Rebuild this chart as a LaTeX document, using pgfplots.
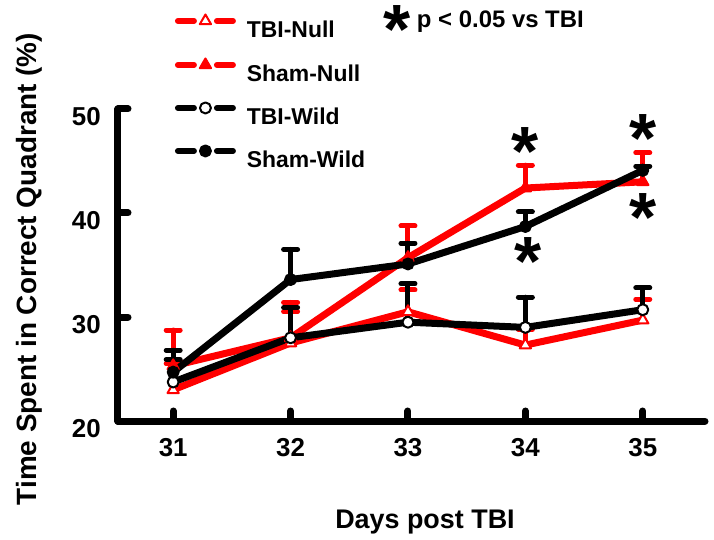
\documentclass[border=0pt]{standalone}
\usepackage{fontspec}
\setmainfont{Liberation Sans}
\usepackage{pgfplots}
\pgfplotsset{compat=1.18}
\definecolor{myred}{RGB}{255,0,0}
\tikzset{bigstar/.style={font=\fontsize{70}{70}\selectfont\bfseries, anchor=base, inner sep=0pt, yshift=-32bp}}
\pgfplotsset{
  ebar/.style={error bars/.cd, y dir=plus, y explicit, error mark=|,
    error bar style={line width=5bp, line cap=round},
    error mark options={mark size=7bp, line width=5bp, line cap=round}},
}
\begin{document}
\begin{tikzpicture}
\begin{axis}[
  scale only axis, width=587bp, height=312bp,
  xmin=30.53, xmax=35.53, ymin=20, ymax=50,
  axis x line=bottom, axis y line=left,
  axis line style={-, line width=7bp, line cap=round},
  xtick={31,32,33,34,35}, ytick={20,30,40,50},
  tick align=inside, major tick length=10bp,
  tick style={line width=7bp, line cap=round, black},
  /pgf/number format/assume math mode=true,
  ticklabel style={font=\fontsize{26}{26}\selectfont\bfseries, inner sep=0pt},
  xticklabel style={anchor=north, yshift=-17bp},
  yticklabel style={anchor=east, xshift=-17bp, yshift=-8bp},
  xlabel={Days post TBI},
  ylabel={Time Spent in Correct Quadrant (\%)},
  label style={inner sep=0pt},
  xlabel style={font=\fontsize{27}{27}\selectfont\bfseries, at={(axis description cs:0.523,0)}, anchor=base, yshift=-107bp},
  ylabel style={font=\fontsize{28}{28}\selectfont\bfseries, at={(axis description cs:-0.138,0.487)}, anchor=base},
  clip=false,
  legend style={at={(axis description cs:0.097,1.303)}, anchor=north west,
    draw=none, fill=none, inner sep=0pt, outer sep=0pt,
    row sep=21bp, column sep=11bp,
    font=\fontsize{23}{23}\selectfont\bfseries,
    nodes={inner sep=0pt, text height=17bp, text depth=0pt}},
  legend cell align=left,
  legend image code/.code={
    \draw[#1, mark=none, line width=6bp, line cap=round] (0bp,8bp) -- (16bp,8bp);
    \draw[#1, mark=none, line width=6bp, line cap=round] (39bp,8bp) -- (55bp,8bp);
    \draw[#1, mark size=5bp] plot[only marks] coordinates {(27.5bp,8bp)};
  },
]
\addplot[myred, line width=7bp, line join=round, mark=triangle*,
  mark options={fill=white, draw=myred, line width=2bp, mark size=6.5bp, solid}, ebar]
  coordinates {(31,23.0) +- (0,2.5) (32,27.5) +- (0,3.0) (33,30.5) +- (0,2.1)
               (34,27.3) +- (0,1.5) (35,29.7) +- (0,2.0)};
\addlegendentry{TBI-Null}
\addplot[myred, line width=7bp, line join=round, mark=triangle*,
  mark options={fill=myred, draw=myred, line width=2bp, mark size=6.5bp, solid}, ebar]
  coordinates {(31,25.3) +- (0,3.45) (32,28.0) +- (0,3.4) (33,35.7) +- (0,3.05)
               (34,42.4) +- (0,2.2) (35,43.0) +- (0,2.8)};
\addlegendentry{Sham-Null}
\addplot[black, line width=7bp, line join=round, mark=*,
  mark options={fill=white, draw=black, line width=2bp, mark size=5.5bp, solid}, ebar]
  coordinates {(31,23.75) +- (0,2.15) (32,28.0) +- (0,2.9) (33,29.5) +- (0,3.7)
               (34,29.0) +- (0,2.9) (35,30.7) +- (0,2.1)};
\addlegendentry{TBI-Wild}
\addplot[black, line width=7bp, line join=round, mark=*,
  mark options={fill=black, draw=black, line width=2bp, mark size=5.5bp, solid}, ebar]
  coordinates {(31,24.7) +- (0,2.1) (32,33.6) +- (0,2.9) (33,35.1) +- (0,2.0)
               (34,38.7) +- (0,1.4) (35,44.1) +- (0,0.4)};
\addlegendentry{Sham-Wild}
\node[bigstar] at (axis cs:34,46.73) {\smash{*}};
\node[bigstar] at (axis cs:34.02,36.15) {\smash{*}};
\node[bigstar] at (axis cs:35,47.98) {\smash{*}};
\node[bigstar] at (axis cs:35,40.29) {\smash{*}};
\node[bigstar] at (axis cs:32.906,58.4) {\smash{*}};
\node[anchor=base west, inner sep=0pt, font=\fontsize{24}{24}\selectfont\bfseries]
  at (axis description cs:0.509,1.26) {p < 0.05 vs TBI};
\end{axis}
\pgfresetboundingbox
\path[use as bounding box] (-118bp,-119bp) rectangle (596bp,421bp);
\end{tikzpicture}
\end{document}
